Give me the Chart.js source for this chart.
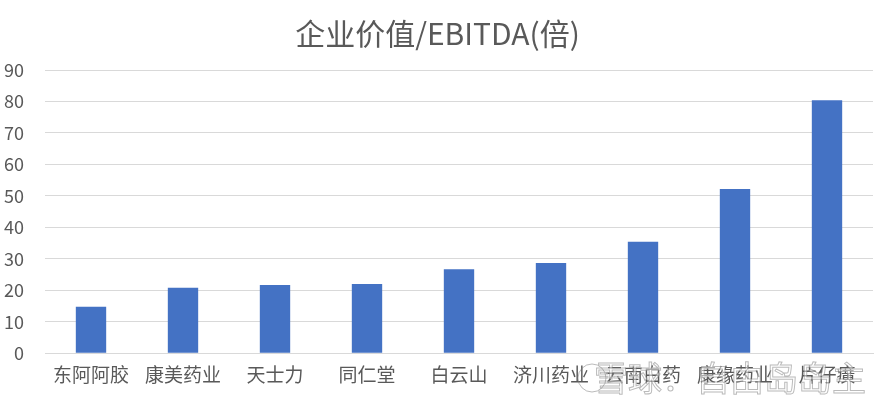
<!DOCTYPE html>
<html><head><meta charset="utf-8">
<script src="https://cdn.jsdelivr.net/npm/chart.js@4/dist/chart.umd.min.js"></script>
<style>html,body{margin:0;padding:0;background:#fff}#wrap{width:878px;height:398px;position:relative}</style>
</head><body><div id="wrap"><canvas id="c" width="878" height="398"></canvas></div>
<script>
const categories = ["东阿阿胶","康美药业","天士力","同仁堂","白云山","济川药业","云南白药","康缘药业","片仔癀"];
const evEbitda = [14.8, 20.8, 21.7, 22.0, 26.7, 28.7, 35.4, 52.2, 80.4];
const yTicks = [0,10,20,30,40,50,60,70,80,90];
const titleText = "企业价值/EBITDA(倍)";
const watermark = "雪球：自由岛岛主";

const FONT = "'Noto Sans CJK SC','Noto Sans',sans-serif";
const wm = {
  id:'wm',
  afterDraw(chart){
    const ctx = chart.ctx;
    ctx.save();
    ctx.font = "34px " + FONT;
    ctx.textAlign = 'right';
    ctx.textBaseline = 'middle';
    ctx.lineWidth = 1;
    ctx.strokeStyle = 'rgba(120,120,120,0.5)';
    ctx.fillStyle = 'rgba(255,255,255,0.5)';
    ctx.fillText(watermark, 866, 378);
    ctx.strokeText(watermark, 866, 378);
    ctx.beginPath();
    ctx.arc(592, 378, 14, 0, Math.PI*2);
    ctx.stroke();
    ctx.restore();
  }
};

new Chart(document.getElementById('c'), {
  type:'bar',
  data:{ labels:categories, datasets:[{ data:evEbitda, backgroundColor:'#4472C4', borderWidth:0, barPercentage:0.33, categoryPercentage:1 }]},
  options:{
    responsive:false, animation:false,
    layout:{ padding:{ left:2, right:5, top:10, bottom:2 } },
    plugins:{
      legend:{display:false}, tooltip:{enabled:false},
      title:{ display:true, text:titleText, color:'#595959', font:{family:FONT, size:30, weight:'normal'}, padding:{top:6, bottom:18} }
    },
    scales:{
      x:{
        grid:{ display:false, drawTicks:false },
        border:{ display:true, color:'#d9d9d9', width:1 },
        ticks:{ color:'#595959', font:{family:FONT, size:19}, autoSkip:false, maxRotation:0, minRotation:0, padding:10 }
      },
      y:{
        min:0, max:90,
        afterBuildTicks(axis){ axis.ticks = yTicks.map(v=>({value:v})); },
        afterFit(axis){ axis.width = 43; },
        grid:{ color:'#d9d9d9', drawTicks:false },
        border:{ display:false },
        ticks:{ color:'#595959', font:{family:FONT, size:18}, padding:21 }
      }
    }
  },
  plugins:[wm]
});
</script></body></html>
